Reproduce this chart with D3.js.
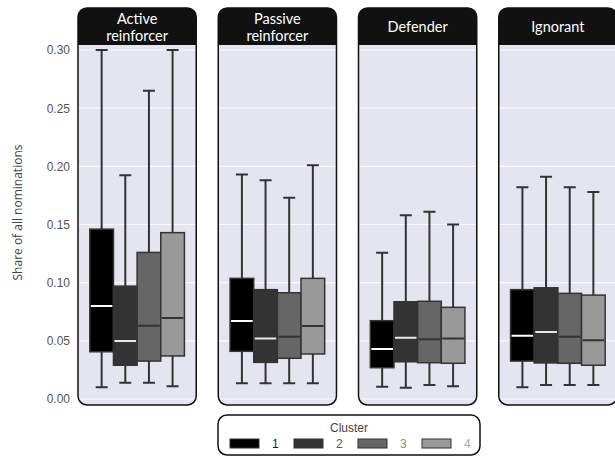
<!DOCTYPE html>
<html>
<head>
<meta charset="utf-8">
<script src="https://cdn.jsdelivr.net/npm/d3@7"></script>
<style>
  body { margin: 0; background: #fff; }
</style>
</head>
<body>
<div id="chart"></div>
<script>
// Facets and clusters
const facets = ["Active reinforcer", "Passive reinforcer", "Defender", "Ignorant"];
const facetLabels = [["Active", "reinforcer"], ["Passive", "reinforcer"], ["Defender"], ["Ignorant"]];
const clusters = ["1", "2", "3", "4"];
const yTicks = [0, 0.05, 0.10, 0.15, 0.20, 0.25, 0.30];

// Box stats, one row per facet, one value per cluster
const whiskerLow = [
    [0.010, 0.014, 0.014, 0.011],
    [0.0135, 0.0135, 0.0135, 0.0135],
    [0.0106, 0.0097, 0.012, 0.011],
    [0.010, 0.012, 0.012, 0.012]
];
const q1 = [
    [0.0406, 0.029, 0.0326, 0.037],
    [0.041, 0.0315, 0.035, 0.0387],
    [0.0269, 0.032, 0.0312, 0.0307],
    [0.0326, 0.031, 0.0307, 0.029]
];
const median = [
    [0.080, 0.0498, 0.063, 0.0696],
    [0.067, 0.052, 0.0535, 0.0627],
    [0.043, 0.0527, 0.0513, 0.052],
    [0.0544, 0.0576, 0.0535, 0.0504]
];
const q3 = [
    [0.146, 0.097, 0.126, 0.143],
    [0.1037, 0.094, 0.0913, 0.1037],
    [0.0673, 0.0836, 0.084, 0.0788],
    [0.094, 0.0956, 0.0908, 0.0893]
];
const whiskerHigh = [
    [0.300, 0.1924, 0.265, 0.300],
    [0.193, 0.188, 0.173, 0.201],
    [0.1257, 0.158, 0.161, 0.150],
    [0.182, 0.191, 0.182, 0.178]
];

const width = 615, height = 457;
const panelTop = 8, stripH = 37, panelBottom = 405;

const svg = d3.select("#chart")
    .append("svg")
    .attr("width", width)
    .attr("height", height);

// Scales
const xFacet = d3.scaleBand()
    .domain(facets)
    .range([78, 617])
    .paddingInner(0.157)
    .paddingOuter(0);

const xCluster = d3.scaleBand()
    .domain(clusters)
    .range([0, xFacet.bandwidth()])
    .paddingInner(0)
    .paddingOuter(0.5);

const yScale = d3.scaleLinear()
    .domain([0, 0.30])
    .range([399, 50]);

const fillScale = d3.scaleOrdinal()
    .domain(clusters)
    .range(["#000000", "#333333", "#666666", "#999999"]);

const medianColor = d3.scaleOrdinal()
    .domain(clusters)
    .range(["#ffffff", "#e8e8e8", "#333333", "#333333"]);

// Y axis tick labels
svg.append("g")
    .attr("transform", `translate(${xFacet(facets[0])},0)`)
    .call(d3.axisLeft(yScale).tickValues(yTicks).tickFormat(d3.format(".2f")).tickSize(0).tickPadding(8))
    .call(g => g.select(".domain").remove())
    .selectAll("text")
    .attr("font-family", "Liberation Sans, Arial, sans-serif")
    .attr("font-size", 12)
    .attr("fill", "#555");

// Y axis title
svg.append("text")
    .attr("transform", "rotate(-90)")
    .attr("x", -(panelTop + panelBottom) / 2 - 6)
    .attr("y", 22)
    .attr("text-anchor", "middle")
    .attr("font-family", "Open Sans, sans-serif")
    .attr("font-size", 12)
    .attr("fill", "#444")
    .text("Share of all nominations");

facets.forEach(function(f, fi) {
    const x0 = xFacet(f);
    const w = xFacet.bandwidth();
    const panel = svg.append("g").attr("transform", `translate(${x0},0)`);

    const clipId = "clip" + fi;
    panel.append("clipPath").attr("id", clipId)
        .append("rect")
        .attr("x", 0).attr("y", panelTop)
        .attr("width", w).attr("height", panelBottom - panelTop)
        .attr("rx", 9);

    const inner = panel.append("g").attr("clip-path", `url(#${clipId})`);

    // Panel background
    inner.append("rect")
        .attr("x", 0).attr("y", panelTop + stripH)
        .attr("width", w).attr("height", panelBottom - panelTop - stripH)
        .attr("fill", "#e5e5f0");

    // Gridlines
    inner.selectAll(".grid")
        .data(yTicks)
        .enter().append("line")
        .attr("x1", 0).attr("x2", w)
        .attr("y1", d => yScale(d)).attr("y2", d => yScale(d))
        .attr("stroke", "#fafafd")
        .attr("stroke-width", 1.2);

    // Strip
    inner.append("rect")
        .attr("x", 0).attr("y", panelTop)
        .attr("width", w).attr("height", stripH)
        .attr("fill", "#111");

    const lines = facetLabels[fi];
    lines.forEach(function(t, li) {
        const baseline = lines.length === 1 ? 32 : 24 + li * 17;
        panel.append("text")
            .attr("x", w / 2)
            .attr("y", baseline)
            .attr("text-anchor", "middle")
            .attr("font-family", "Lato, sans-serif")
            .attr("font-size", 14.5)
            .attr("fill", "#fff")
            .text(t);
    });

    // Boxes
    const boxes = inner.selectAll(".box")
        .data(clusters)
        .enter().append("g")
        .attr("class", "box");

    const bw = xCluster.bandwidth();
    const cx = c => xCluster(c) + bw / 2;

    boxes.append("line")
        .attr("x1", d => cx(d)).attr("x2", d => cx(d))
        .attr("y1", (d, i) => yScale(whiskerLow[fi][i]))
        .attr("y2", (d, i) => yScale(whiskerHigh[fi][i]))
        .attr("stroke", "#333").attr("stroke-width", 2);

    ["low", "high"].forEach(function(k) {
        boxes.append("line")
            .attr("x1", d => cx(d) - 6).attr("x2", d => cx(d) + 6)
            .attr("y1", (d, i) => yScale(k === "low" ? whiskerLow[fi][i] : whiskerHigh[fi][i]))
            .attr("y2", (d, i) => yScale(k === "low" ? whiskerLow[fi][i] : whiskerHigh[fi][i]))
            .attr("stroke", "#333").attr("stroke-width", 2);
    });

    boxes.append("rect")
        .attr("x", d => xCluster(d))
        .attr("width", bw)
        .attr("y", (d, i) => yScale(q3[fi][i]))
        .attr("height", (d, i) => yScale(q1[fi][i]) - yScale(q3[fi][i]))
        .attr("fill", d => fillScale(d))
        .attr("stroke", "#333")
        .attr("stroke-width", 1.5);

    boxes.append("line")
        .attr("x1", d => xCluster(d) + 1).attr("x2", d => xCluster(d) + bw - 1)
        .attr("y1", (d, i) => yScale(median[fi][i]))
        .attr("y2", (d, i) => yScale(median[fi][i]))
        .attr("stroke", d => medianColor(d))
        .attr("stroke-width", 2);

    // Panel border
    panel.append("rect")
        .attr("x", 0).attr("y", panelTop)
        .attr("width", w).attr("height", panelBottom - panelTop)
        .attr("rx", 9)
        .attr("fill", "none")
        .attr("stroke", "#111")
        .attr("stroke-width", 1.5);
});

// Legend
const legend = svg.append("g").attr("transform", "translate(218,415)");
legend.append("rect")
    .attr("width", 262).attr("height", 40)
    .attr("rx", 9)
    .attr("fill", "#fff")
    .attr("stroke", "#111")
    .attr("stroke-width", 1.5);

legend.append("text")
    .attr("x", 131).attr("y", 13)
    .attr("dy", "0.35em")
    .attr("text-anchor", "middle")
    .attr("font-family", "Liberation Sans, Arial, sans-serif")
    .attr("font-size", 12)
    .attr("fill", "#444")
    .text("Cluster");

const labelColor = d3.scaleOrdinal()
    .domain(clusters)
    .range(["#222", "#555", "#888", "#aaa"]);

const items = legend.selectAll(".legend")
    .data(clusters)
    .enter().append("g")
    .attr("class", "legend")
    .attr("transform", (d, i) => `translate(${12 + i * 64},24)`);

items.append("rect")
    .attr("width", 29).attr("height", 9)
    .attr("fill", d => fillScale(d))
    .attr("stroke", "#333")
    .attr("stroke-width", 1);

items.append("text")
    .attr("x", 42).attr("y", 5)
    .attr("dy", "0.35em")
    .attr("font-family", "Liberation Sans, Arial, sans-serif")
    .attr("font-size", 12)
    .attr("fill", d => labelColor(d))
    .text(d => d);
</script>
</body>
</html>
